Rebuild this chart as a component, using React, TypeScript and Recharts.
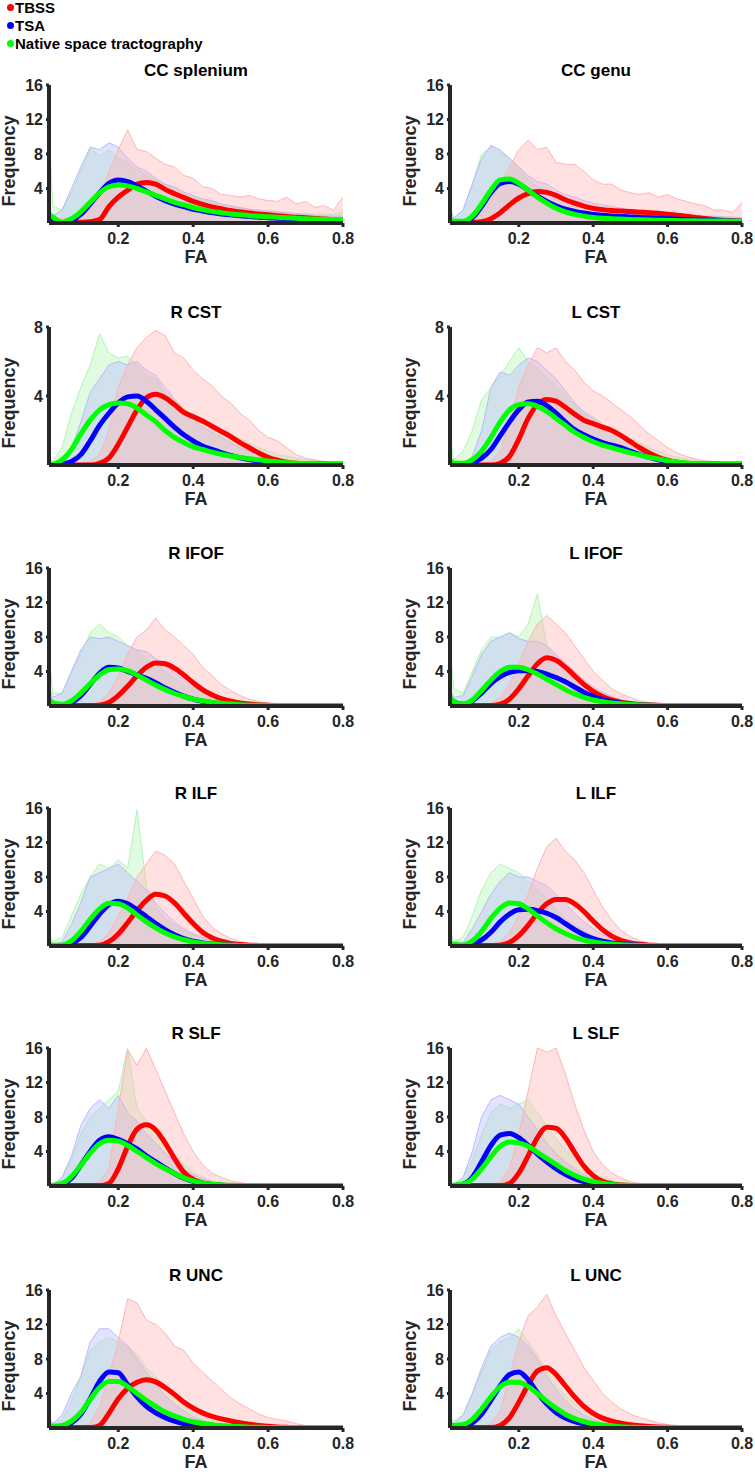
import React from "react";
import { ComposedChart, Line, Area, XAxis, YAxis } from "recharts";

// FA bin centres shared by every histogram curve
const FA_GRID = [0.015, 0.025, 0.05, 0.075, 0.1, 0.125, 0.15, 0.175, 0.2, 0.225, 0.25, 0.275, 0.3, 0.325, 0.35, 0.375, 0.4, 0.425, 0.45, 0.475, 0.5, 0.525, 0.55, 0.575, 0.6, 0.625, 0.65, 0.675, 0.7, 0.725, 0.75, 0.775, 0.8];
const X_TICKS = [0.2, 0.4, 0.6, 0.8];
const Y_TICKS_16 = [4, 8, 12, 16];
const Y_TICKS_8 = [4, 8];

const LEGEND_LABELS = ["TBSS", "TSA", "Native space tractography"];
const TITLES = ["CC splenium", "CC genu", "R CST", "L CST", "R IFOF", "L IFOF", "R ILF", "L ILF", "R SLF", "L SLF", "R UNC", "L UNC"];
const Y_MAX = [16, 16, 8, 8, 16, 16, 16, 16, 16, 16, 16, 16];

// ---- CC splenium
const CCS_TBSS = [0.05,0.05, 0.05,0.05,0.08, 0.15,0.4,1.9,3.0, 3.8,4.5,4.7,4.5, 3.9,3.4,2.95,2.5, 2.15,1.85,1.65,1.45, 1.3,1.15,1.05,0.95, 0.85,0.75,0.68,0.6, 0.52,0.45,0.38,0.3];
const CCS_TSA = [0.3,0.15, 0.02,0.3,1.0, 2.2,3.5,4.6,5.0, 4.8,4.3,3.7,3.1, 2.6,2.2,1.9,1.6, 1.4,1.2,1.05,0.95, 0.85,0.75,0.68,0.62, 0.56,0.5,0.46,0.42, 0.38,0.35,0.32,0.3];
const CCS_NAT = [1.0,0.7, 0.1,0.5,1.3, 2.4,3.5,4.2,4.4, 4.3,4.0,3.6,3.2, 2.8,2.4,2.1,1.8, 1.55,1.35,1.2,1.05, 0.95,0.85,0.78,0.72, 0.66,0.6,0.55,0.5, 0.46,0.42,0.4,0.38];
const CCS_TBSS_MAX = [0.5,0.5, 0.5,0.6,0.8, 1.5,3,6,8.5, 10.8,8.5,8.3,7.5, 6.8,6.5,5.5,5.2, 4.2,4,3.3,3.2, 3.0,3.2,2.8,2.6, 2.5,3.0,2.2,2.5, 1.8,2.0,1.5,3.0];
const CCS_TSA_MAX = [1.5,0.8, 1.5,4,6.5, 8.8,8.5,9.3,8.8, 7.5,6.5,6,5.2, 4.5,4.2,3.6,3.2, 2.8,2.6,2.2,2, 1.8,1.6,1.5,1.4, 1.3,1.2,1.1,1.0, 0.9,0.8,0.8,0.8];
const CCS_NAT_MAX = [11,2, 1.5,3.5,6, 8.6,7.8,8.5,7.5, 7,6.2,5.5,5, 4.5,4,3.4,3, 2.7,2.4,2.1,1.9, 1.7,1.6,1.5,1.4, 1.3,1.2,1.1,1.1, 1.0,1.0,1.0,1.2];

// ---- CC genu
const CCG_TBSS = [0.05,0.05, 0.05,0.05,0.15, 0.5,1.2,2.1,2.9, 3.4,3.65,3.55,3.2, 2.7,2.3,1.95,1.7, 1.55,1.45,1.38,1.32, 1.26,1.2,1.12,1.02, 0.9,0.78,0.65,0.52, 0.42,0.33,0.25,0.2];
const CCG_TSA = [0.15,0.1, 0.1,0.6,1.9, 3.5,4.6,4.8,4.5, 3.8,3.1,2.5,2.0, 1.6,1.35,1.15,1.0, 0.9,0.82,0.76,0.7, 0.65,0.6,0.55,0.5, 0.45,0.4,0.36,0.32, 0.28,0.25,0.22,0.2];
const CCG_NAT = [0.3,0.2, 0.2,0.8,2.2, 3.8,5.0,5.1,4.6, 3.8,3.0,2.3,1.7, 1.3,1.0,0.8,0.65, 0.55,0.5,0.45,0.4, 0.37,0.34,0.32,0.3, 0.28,0.26,0.25,0.24, 0.23,0.22,0.21,0.2];
const CCG_TBSS_MAX = [0.3,0.3, 0.3,0.5,1, 2.5,4.5,6.5,8.5, 9.6,8.5,8.8,7, 6.8,6.8,6,5, 4.5,4.5,3.8,3.5, 3.3,3.5,3,3.3, 2.8,2.5,2.2,2.0, 1.5,1.5,1.2,2.4];
const CCG_TSA_MAX = [1.5,0.5, 1.5,4.5,7.5, 9,8.5,7.5,6.5, 5.5,4.8,4.5,3.8, 3.3,3,2.6,2.3, 2.1,1.9,1.7,1.6, 1.5,1.4,1.3,1.2, 1.1,1.0,0.9,0.8, 0.8,0.7,0.7,0.6];
const CCG_NAT_MAX = [2,0.6, 1.5,4.5,8, 8.8,8.2,7.5,6.5, 5,4.2,3.6,3, 2.6,2.2,1.9,1.6, 1.4,1.3,1.2,1.1, 1.0,0.9,0.9,0.8, 0.8,0.7,0.7,0.6, 0.6,0.5,0.5,0.5];

// ---- R CST
const RCST_TBSS = [0,0, 0,0,0, 0,0.1,0.4,1.2, 2.2,3.2,3.9,4.1, 3.9,3.5,3.05,2.8, 2.55,2.25,1.95,1.65, 1.3,1.0,0.7,0.45, 0.28,0.16,0.1,0.06, 0.05,0.05,0.05,0.05];
const RCST_TSA = [0,0, 0.05,0.2,0.6, 1.4,2.3,3.0,3.6, 3.95,4.0,3.7,3.2, 2.7,2.2,1.75,1.4, 1.1,0.9,0.72,0.56, 0.42,0.32,0.24,0.16, 0.1,0.07,0.05,0.05, 0.05,0.05,0.05,0.05];
const RCST_NAT = [0.05,0.05, 0.3,0.9,1.8, 2.6,3.2,3.5,3.6, 3.55,3.3,2.9,2.5, 2.0,1.6,1.3,1.05, 0.9,0.75,0.62,0.52, 0.44,0.36,0.3,0.24, 0.18,0.13,0.1,0.08, 0.06,0.05,0.05,0.05];
const RCST_TBSS_MAX = [0,0, 0,0,0.1, 0.2,0.6,2,4.5, 5.8,6.8,7.4,7.8, 7.5,6.5,6.2,5.5, 5,4.6,4,3.6, 3,2.6,2,1.6, 1.4,1,0.6,0.4, 0.3,0.2,0.1,0.1];
const RCST_TSA_MAX = [0,0, 0.3,1,2.5, 4.2,5,5.8,6, 5.8,6,5.5,5.2, 4.5,3.8,3.2,2.6, 2.2,1.9,1.6,1.3, 1,0.8,0.6,0.4, 0.3,0.2,0.15,0.1, 0.1,0.05,0.05,0.05];
const RCST_NAT_MAX = [0.5,0.2, 1,3,4.5, 5.8,7.6,6.5,6.2, 6.3,5.8,5.2,5, 4.2,3.8,3.3,2.8, 2.4,2.2,2,1.8, 1.5,1.3,1,0.8, 0.6,0.5,0.4,0.3, 0.25,0.2,0.15,0.1];

// ---- L CST
const LCST_TBSS = [0,0, 0,0,0, 0,0.1,0.5,1.5, 2.7,3.5,3.8,3.7, 3.35,2.95,2.6,2.4, 2.2,2.0,1.7,1.35, 1.0,0.7,0.45,0.28, 0.16,0.1,0.07,0.05, 0.05,0.05,0.05,0.05];
const LCST_TSA = [0,0, 0.05,0.15,0.4, 0.9,1.7,2.5,3.2, 3.65,3.7,3.45,3.0, 2.5,2.05,1.75,1.5, 1.3,1.15,1.0,0.8, 0.6,0.45,0.3,0.2, 0.12,0.08,0.05,0.05, 0.05,0.05,0.05,0.05];
const LCST_NAT = [0.3,0.1, 0.1,0.3,0.8, 1.6,2.5,3.2,3.5, 3.55,3.4,3.1,2.7, 2.3,1.9,1.6,1.35, 1.15,1.0,0.85,0.7, 0.58,0.45,0.35,0.25, 0.18,0.12,0.08,0.06, 0.05,0.05,0.05,0.05];
const LCST_TBSS_MAX = [0,0, 0,0,0.1, 0.2,0.8,2.5,4.5, 5.8,6.8,6.5,6.8, 6,5.5,4.8,4.3, 4,3.6,3.2,2.8, 2.3,1.8,1.4,1, 0.7,0.5,0.35,0.25, 0.2,0.15,0.1,0.1];
const LCST_TSA_MAX = [0,0, 0.1,0.5,2, 4.5,5.4,5.2,5.8, 6.2,6,5.5,5, 4.3,3.6,3.1,2.7, 2.3,2,1.7,1.4, 1.1,0.8,0.6,0.4, 0.3,0.2,0.15,0.1, 0.1,0.05,0.05,0.05];
const LCST_NAT_MAX = [1.8,0.3, 0.8,2,3.8, 4.5,5.2,6,6.8, 6,5.6,5,4.6, 4,3.5,3,2.8, 2.4,2.1,1.8,1.5, 1.3,1,0.8,0.6, 0.45,0.35,0.25,0.2, 0.15,0.1,0.1,0.1];

// ---- R IFOF
const RIFOF_TBSS = [0.05,0.05, 0.05,0.05,0.05, 0.05,0.1,0.4,1.2, 2.3,3.5,4.5,5.0, 4.9,4.4,3.6,2.7, 1.9,1.3,0.85,0.55, 0.35,0.22,0.14,0.1, 0.07,0.05,0.05,0.05, 0.05,0.05,0.05,0.05];
const RIFOF_TSA = [0.5,0.3, 0.1,0.4,1.2, 2.5,3.8,4.5,4.4, 4.0,3.6,3.2,2.7, 2.1,1.6,1.15,0.8, 0.55,0.38,0.25,0.16, 0.1,0.07,0.05,0.05, 0.05,0.05,0.05,0.05, 0.05,0.05,0.05,0.05];
const RIFOF_NAT = [0.8,0.4, 0.2,0.6,1.5, 2.6,3.6,4.2,4.3, 4.1,3.6,3.0,2.4, 1.9,1.45,1.1,0.8, 0.6,0.45,0.32,0.22, 0.15,0.1,0.08,0.06, 0.05,0.05,0.05,0.05, 0.05,0.05,0.05,0.05];
const RIFOF_TBSS_MAX = [0.05,0.05, 0.05,0.05,0.1, 0.2,0.5,1.5,3.5, 6,8,8.8,10.2, 8.8,8,7,6, 4.5,3.5,2.5,1.8, 1.2,0.8,0.5,0.3, 0.2,0.15,0.1,0.1, 0.05,0.05,0.05,0.05];
const RIFOF_TSA_MAX = [2,1, 1.5,4,6.5, 8,7.8,8,7.5, 7,6.5,6.3,5.5, 4.8,3.8,3,2.2, 1.6,1.2,0.8,0.5, 0.3,0.2,0.15,0.1, 0.1,0.05,0.05,0.05, 0.05,0.05,0.05,0.05];
const RIFOF_NAT_MAX = [6,1.5, 1.5,4,6, 8.5,9.5,8.5,8, 7,6.5,5.5,4.8, 4,3.2,2.5,2, 1.5,1.2,0.9,0.7, 0.5,0.35,0.25,0.2, 0.15,0.1,0.1,0.05, 0.05,0.05,0.05,0.05];

// ---- L IFOF
const LIFOF_TBSS = [0.05,0.05, 0.05,0.05,0.05, 0.05,0.2,0.8,2.0, 3.5,4.9,5.6,5.3, 4.5,3.5,2.5,1.7, 1.1,0.7,0.45,0.28, 0.18,0.12,0.08,0.06, 0.05,0.05,0.05,0.05, 0.05,0.05,0.05,0.05];
const LIFOF_TSA = [0.8,0.5, 0.2,0.6,1.5, 2.6,3.4,3.9,4.1, 4.1,4.0,3.7,3.3, 2.8,2.2,1.6,1.1, 0.75,0.5,0.32,0.2, 0.12,0.08,0.06,0.05, 0.05,0.05,0.05,0.05, 0.05,0.05,0.05,0.05];
const LIFOF_NAT = [1.0,0.5, 0.2,0.7,1.8, 3.0,4.0,4.5,4.5, 4.2,3.7,3.1,2.5, 1.9,1.4,1.0,0.7, 0.5,0.35,0.25,0.18, 0.12,0.08,0.06,0.05, 0.05,0.05,0.05,0.05, 0.05,0.05,0.05,0.05];
const LIFOF_TBSS_MAX = [0.05,0.05, 0.05,0.05,0.1, 0.3,1,2.5,5, 7.5,9.5,10.5,9.5, 8.5,7,5.5,4, 3,2,1.4,1, 0.6,0.4,0.25,0.15, 0.1,0.1,0.05,0.05, 0.05,0.05,0.05,0.05];
const LIFOF_TSA_MAX = [2,1, 1.2,3.5,6, 7.5,8,8.5,7.8, 7.5,7.5,7,6, 5,4,3,2.2, 1.6,1.1,0.7,0.5, 0.3,0.2,0.15,0.1, 0.1,0.05,0.05,0.05, 0.05,0.05,0.05,0.05];
const LIFOF_NAT_MAX = [7,2, 1.5,4,6.5, 8,8,8.5,8, 9.5,13,7,5.5, 4.5,3.5,2.6,2, 1.4,1,0.7,0.5, 0.35,0.25,0.2,0.15, 0.1,0.1,0.05,0.05, 0.05,0.05,0.05,0.05];

// ---- R ILF
const RILF_TBSS = [0.05,0.05, 0.05,0.05,0.05, 0.05,0.1,0.5,1.4, 2.7,4.1,5.3,6.0, 5.8,5.0,3.8,2.6, 1.6,0.95,0.55,0.3, 0.17,0.1,0.07,0.05, 0.05,0.05,0.05,0.05, 0.05,0.05,0.05,0.05];
const RILF_TSA = [0.1,0.05, 0.05,0.3,1.0, 2.3,3.7,4.8,5.2, 4.9,4.2,3.4,2.6, 1.9,1.3,0.85,0.55, 0.35,0.22,0.14,0.1, 0.07,0.05,0.05,0.05, 0.05,0.05,0.05,0.05, 0.05,0.05,0.05,0.05];
const RILF_NAT = [0.3,0.1, 0.1,0.6,1.7, 3.1,4.3,4.95,4.9, 4.4,3.6,2.8,2.1, 1.5,1.05,0.72,0.48, 0.32,0.22,0.15,0.1, 0.07,0.05,0.05,0.05, 0.05,0.05,0.05,0.05, 0.05,0.05,0.05,0.05];
const RILF_TBSS_MAX = [0.05,0.05, 0.05,0.05,0.1, 0.2,0.5,1.5,3.5, 5.5,8,9.5,11, 10.5,9.5,7.5,5.5, 3.5,2.2,1.4,0.9, 0.5,0.3,0.2,0.1, 0.1,0.05,0.05,0.05, 0.05,0.05,0.05,0.05];
const RILF_TSA_MAX = [0.3,0.1, 0.5,2.5,5, 8,8.5,9,9.5, 8.5,7.5,6.5,5, 3.8,2.8,2,1.4, 1,0.6,0.4,0.25, 0.15,0.1,0.05,0.05, 0.05,0.05,0.05,0.05, 0.05,0.05,0.05,0.05];
const RILF_NAT_MAX = [1.5,0.5, 1,3.5,6, 8,9.5,9,10, 9,15.8,7,4.5, 3.2,2.4,1.8,1.3, 0.9,0.6,0.4,0.3, 0.2,0.15,0.1,0.1, 0.05,0.05,0.05,0.05, 0.05,0.05,0.05,0.05];

// ---- L ILF
const LILF_TBSS = [0.05,0.05, 0.05,0.05,0.05, 0.05,0.1,0.4,1.2, 2.4,3.8,4.9,5.4, 5.4,4.9,4.0,2.9, 1.9,1.15,0.65,0.35, 0.2,0.1,0.07,0.05, 0.05,0.05,0.05,0.05, 0.05,0.05,0.05,0.05];
const LILF_TSA = [0.2,0.1, 0.05,0.2,0.7, 1.6,2.8,3.7,4.2, 4.25,4.1,3.8,3.3, 2.6,1.9,1.3,0.85, 0.55,0.35,0.22,0.14, 0.09,0.06,0.05,0.05, 0.05,0.05,0.05,0.05, 0.05,0.05,0.05,0.05];
const LILF_NAT = [0.4,0.2, 0.1,0.6,1.7, 3.2,4.4,5.0,4.9, 4.3,3.5,2.7,2.0, 1.45,1.0,0.7,0.48, 0.32,0.22,0.15,0.1, 0.07,0.05,0.05,0.05, 0.05,0.05,0.05,0.05, 0.05,0.05,0.05,0.05];
const LILF_TBSS_MAX = [0.05,0.05, 0.05,0.05,0.1, 0.2,0.5,1.5,3.5, 6,9,11.5,12.5, 11,10,8.5,6.5, 4.5,3,1.8,1.1, 0.6,0.35,0.2,0.1, 0.1,0.05,0.05,0.05, 0.05,0.05,0.05,0.05];
const LILF_TSA_MAX = [0.3,0.1, 0.4,2,4, 6,7.5,8.5,8, 8,7.5,7,6, 5,3.8,2.8,2, 1.3,0.8,0.5,0.3, 0.2,0.1,0.05,0.05, 0.05,0.05,0.05,0.05, 0.05,0.05,0.05,0.05];
const LILF_NAT_MAX = [2,0.5, 1,3.5,6.5, 8.5,9.5,9,8.5, 7.5,6.5,5.5,4.2, 3.2,2.4,1.8,1.2, 0.8,0.5,0.35,0.25, 0.15,0.1,0.1,0.05, 0.05,0.05,0.05,0.05, 0.05,0.05,0.05,0.05];

// ---- R SLF
const RSLF_TBSS = [0.05,0.05, 0.05,0.05,0.05, 0.05,0.05,0.3,2.0, 4.6,6.6,7.1,6.5, 5.0,3.2,1.6,0.75, 0.35,0.15,0.08,0.05, 0.05,0.05,0.05,0.05, 0.05,0.05,0.05,0.05, 0.05,0.05,0.05,0.05];
const RSLF_TSA = [0.05,0.05, 0.2,0.9,2.4, 4.0,5.3,5.7,5.4, 4.9,4.3,3.5,2.8, 2.1,1.45,0.9,0.55, 0.32,0.18,0.1,0.06, 0.05,0.05,0.05,0.05, 0.05,0.05,0.05,0.05, 0.05,0.05,0.05,0.05];
const RSLF_NAT = [0.1,0.1, 0.3,1.1,2.4, 3.8,4.9,5.3,5.2, 4.7,4.0,3.3,2.6, 2.0,1.45,0.95,0.6, 0.35,0.2,0.12,0.08, 0.06,0.05,0.05,0.05, 0.05,0.05,0.05,0.05, 0.05,0.05,0.05,0.05];
const RSLF_TBSS_MAX = [0.05,0.05, 0.05,0.05,0.05, 0.1,0.5,2,9, 15.8,14,16,13.5, 11,8.5,6,4, 2.5,1.5,1,0.6, 0.4,0.25,0.15,0.1, 0.05,0.05,0.05,0.05, 0.05,0.05,0.05,0.05];
const RSLF_TSA_MAX = [0.1,0.1, 1,3.5,7, 9,10,9,10.5, 8.5,7.5,6,5, 3.8,2.8,2,1.3, 0.8,0.5,0.3,0.2, 0.1,0.05,0.05,0.05, 0.05,0.05,0.05,0.05, 0.05,0.05,0.05,0.05];
const RSLF_NAT_MAX = [0.3,0.2, 1,3,6, 8,9,10,11, 16,9,7.5,6, 4.5,3.5,2.5,1.6, 1,0.6,0.4,0.3, 0.2,0.1,0.1,0.05, 0.05,0.05,0.05,0.05, 0.05,0.05,0.05,0.05];

// ---- L SLF
const LSLF_TBSS = [0.05,0.05, 0.05,0.05,0.05, 0.05,0.05,0.3,1.5, 3.5,5.6,6.8,6.7, 5.6,3.9,2.3,1.2, 0.55,0.25,0.12,0.06, 0.05,0.05,0.05,0.05, 0.05,0.05,0.05,0.05, 0.05,0.05,0.05,0.05];
const LSLF_TSA = [0.05,0.05, 0.2,1.0,2.8, 4.7,5.9,6.1,5.6, 4.7,3.7,2.8,2.0, 1.35,0.85,0.5,0.3, 0.18,0.1,0.06,0.05, 0.05,0.05,0.05,0.05, 0.05,0.05,0.05,0.05, 0.05,0.05,0.05,0.05];
const LSLF_NAT = [0.1,0.1, 0.2,0.8,2.0, 3.4,4.6,5.1,5.0, 4.6,3.9,3.2,2.5, 1.8,1.25,0.8,0.5, 0.3,0.18,0.1,0.07, 0.05,0.05,0.05,0.05, 0.05,0.05,0.05,0.05, 0.05,0.05,0.05,0.05];
const LSLF_TBSS_MAX = [0.05,0.05, 0.05,0.05,0.05, 0.1,0.5,2,6, 11,16,15.5,16, 13,9.5,6.5,4, 2.5,1.5,0.9,0.5, 0.3,0.2,0.1,0.05, 0.05,0.05,0.05,0.05, 0.05,0.05,0.05,0.05];
const LSLF_TSA_MAX = [0.1,0.1, 1,4,8, 10,10.5,10,9.5, 8,6.5,5,3.8, 2.8,2,1.3,0.8, 0.5,0.3,0.2,0.1, 0.05,0.05,0.05,0.05, 0.05,0.05,0.05,0.05, 0.05,0.05,0.05,0.05];
const LSLF_NAT_MAX = [0.3,0.2, 1,3,6, 8.5,9.5,9,9.5, 10,8.5,7,5.5, 4.2,3.2,2.2,1.5, 1,0.6,0.4,0.25, 0.15,0.1,0.05,0.05, 0.05,0.05,0.05,0.05, 0.05,0.05,0.05,0.05];

// ---- R UNC
const RUNC_TBSS = [0.05,0.05, 0.05,0.05,0.05, 0.05,0.3,1.7,3.4, 4.6,5.3,5.6,5.35, 4.7,3.9,3.0,2.3, 1.75,1.35,1.05,0.82, 0.62,0.45,0.3,0.2, 0.12,0.08,0.05,0.05, 0.05,0.05,0.05,0.05];
const RUNC_TSA = [0.1,0.1, 0.2,0.6,1.6, 3.4,5.4,6.5,6.4, 5.0,3.6,2.5,1.75, 1.2,0.8,0.5,0.32, 0.2,0.12,0.08,0.06, 0.05,0.05,0.05,0.05, 0.05,0.05,0.05,0.05, 0.05,0.05,0.05,0.05];
const RUNC_NAT = [0.3,0.2, 0.3,0.8,1.8, 3.3,4.7,5.4,5.4, 4.8,4.0,3.2,2.5, 1.85,1.4,1.0,0.72, 0.52,0.38,0.28,0.2, 0.15,0.1,0.08,0.06, 0.05,0.05,0.05,0.05, 0.05,0.05,0.05,0.05];
const RUNC_TBSS_MAX = [0.05,0.05, 0.05,0.05,0.1, 0.5,2.5,6,10, 15,14.5,12.5,12, 11,9.5,9,7.5, 6.5,5.5,4.5,3.5, 2.8,2.2,1.6,1.2, 1,0.8,0.5,0.3, 0.2,0.1,0.05,0.05];
const RUNC_TSA_MAX = [1,0.5, 1.5,4,6, 10,11.5,11.5,10.5, 9.5,8,6.5,5, 3.8,2.8,2,1.3, 0.9,0.6,0.4,0.25, 0.15,0.1,0.05,0.05, 0.05,0.05,0.05,0.05, 0.05,0.05,0.05,0.05];
const RUNC_NAT_MAX = [1.5,0.5, 1,3,6, 9,10,10.5,10, 9.5,8.5,7,6, 4.5,3.5,2.5,1.8, 1.3,0.9,0.6,0.4, 0.3,0.2,0.15,0.1, 0.05,0.05,0.05,0.05, 0.05,0.05,0.05,0.05];

// ---- L UNC
const LUNC_TBSS = [0.05,0.05, 0.05,0.05,0.05, 0.05,0.3,1.2,3.0, 5.0,6.6,7.0,6.2, 4.9,3.6,2.5,1.7, 1.15,0.8,0.55,0.38, 0.26,0.18,0.12,0.08, 0.05,0.05,0.05,0.05, 0.05,0.05,0.05,0.05];
const LUNC_TSA = [0.1,0.1, 0.2,0.6,1.6, 3.2,4.9,6.2,6.5, 5.6,4.1,2.8,1.8, 1.15,0.75,0.48,0.3, 0.2,0.12,0.08,0.06, 0.05,0.05,0.05,0.05, 0.05,0.05,0.05,0.05, 0.05,0.05,0.05,0.05];
const LUNC_NAT = [0.4,0.3, 0.4,1.0,2.2, 3.6,4.8,5.3,5.3, 4.8,4.0,3.1,2.3, 1.6,1.1,0.75,0.5, 0.34,0.22,0.15,0.1, 0.07,0.05,0.05,0.05, 0.05,0.05,0.05,0.05, 0.05,0.05,0.05,0.05];
const LUNC_TBSS_MAX = [0.05,0.05, 0.05,0.05,0.1, 0.5,2,6,10, 13,14,15.5,13, 11,9,7,5.5, 4,3,2.2,1.6, 1.2,0.9,0.6,0.4, 0.3,0.2,0.1,0.05, 0.05,0.05,0.05,0.05];
const LUNC_TSA_MAX = [1,0.5, 1.5,4,7, 9.5,10.5,11,10.5, 9.5,8,6,4.5, 3.2,2.2,1.5,1, 0.6,0.4,0.25,0.15, 0.1,0.05,0.05,0.05, 0.05,0.05,0.05,0.05, 0.05,0.05,0.05,0.05];
const LUNC_NAT_MAX = [1.5,0.8, 1.5,4,6.5, 9,10,10.5,11.5, 10,8.5,6.5,5, 3.8,2.8,2,1.4, 1,0.7,0.45,0.3, 0.2,0.15,0.1,0.05, 0.05,0.05,0.05,0.05, 0.05,0.05,0.05,0.05];

const SERIES = [
  [CCS_TBSS, CCS_TSA, CCS_NAT, CCS_TBSS_MAX, CCS_TSA_MAX, CCS_NAT_MAX],
  [CCG_TBSS, CCG_TSA, CCG_NAT, CCG_TBSS_MAX, CCG_TSA_MAX, CCG_NAT_MAX],
  [RCST_TBSS, RCST_TSA, RCST_NAT, RCST_TBSS_MAX, RCST_TSA_MAX, RCST_NAT_MAX],
  [LCST_TBSS, LCST_TSA, LCST_NAT, LCST_TBSS_MAX, LCST_TSA_MAX, LCST_NAT_MAX],
  [RIFOF_TBSS, RIFOF_TSA, RIFOF_NAT, RIFOF_TBSS_MAX, RIFOF_TSA_MAX, RIFOF_NAT_MAX],
  [LIFOF_TBSS, LIFOF_TSA, LIFOF_NAT, LIFOF_TBSS_MAX, LIFOF_TSA_MAX, LIFOF_NAT_MAX],
  [RILF_TBSS, RILF_TSA, RILF_NAT, RILF_TBSS_MAX, RILF_TSA_MAX, RILF_NAT_MAX],
  [LILF_TBSS, LILF_TSA, LILF_NAT, LILF_TBSS_MAX, LILF_TSA_MAX, LILF_NAT_MAX],
  [RSLF_TBSS, RSLF_TSA, RSLF_NAT, RSLF_TBSS_MAX, RSLF_TSA_MAX, RSLF_NAT_MAX],
  [LSLF_TBSS, LSLF_TSA, LSLF_NAT, LSLF_TBSS_MAX, LSLF_TSA_MAX, LSLF_NAT_MAX],
  [RUNC_TBSS, RUNC_TSA, RUNC_NAT, RUNC_TBSS_MAX, RUNC_TSA_MAX, RUNC_NAT_MAX],
  [LUNC_TBSS, LUNC_TSA, LUNC_NAT, LUNC_TBSS_MAX, LUNC_TSA_MAX, LUNC_NAT_MAX],
];

// ---- layout / style
const FONT = "'Liberation Sans', Arial, Helvetica, sans-serif";
const AXIS = "#262626";
const RED = "#ff0000", BLUE = "#0000ff", GREEN = "#00ff00";
const PALE_RED = "#ffb4b4", PALE_BLUE = "#b9b9ff", PALE_GREEN = "#b4f5b4";
const ROW_TOPS = [85, 327, 568, 808, 1048, 1290];
const COL_AXIS_X = [49, 450];
const COL_PLOT_W = [294, 292];
const COL_RIGHT_PAD = [16, 13];
const PLOT_H = 138;
const Y_AXIS_W = 49;
const TOP_PAD = 10;
const X_AXIS_H = 30;

function Panel({ idx }: { idx: number }) {
  const row = Math.floor(idx / 2);
  const col = idx % 2;
  const [r, b, g, rMax, bMax, gMax] = SERIES[idx];
  const data = FA_GRID.map((x, i) => ({ x, r: r[i], b: b[i], g: g[i], rMax: rMax[i], bMax: bMax[i], gMax: gMax[i] }));
  const axisX = COL_AXIS_X[col];
  const plotW = COL_PLOT_W[col];
  const rightPad = COL_RIGHT_PAD[col];
  const top = ROW_TOPS[row];
  const yMax = Y_MAX[idx];
  const tickStyle = { fontSize: 16, fontWeight: 700, fill: AXIS, fontFamily: FONT };
  return (
    <>
      <div style={{ position: "absolute", left: axisX - Y_AXIS_W, top: top - TOP_PAD }}>
        <ComposedChart
          width={Y_AXIS_W + plotW + rightPad}
          height={TOP_PAD + PLOT_H + X_AXIS_H}
          data={data}
          margin={{ top: TOP_PAD, right: rightPad, left: 0, bottom: 0 }}
        >
          <XAxis
            type="number"
            dataKey="x"
            domain={[0.015, 0.8]}
            allowDataOverflow
            ticks={X_TICKS}
            tickFormatter={(v: number) => String(v)}
            height={X_AXIS_H}
            axisLine={{ stroke: AXIS, strokeWidth: 4 }}
            tickLine={{ stroke: AXIS, strokeWidth: 3 }}
            tickSize={4}
            tickMargin={6}
            tick={tickStyle}
            interval={0}
          />
          <YAxis
            type="number"
            domain={[0, yMax]}
            allowDataOverflow
            ticks={yMax === 8 ? Y_TICKS_8 : Y_TICKS_16}
            width={Y_AXIS_W}
            axisLine={{ stroke: AXIS, strokeWidth: 4 }}
            tickLine={{ stroke: AXIS, strokeWidth: 3 }}
            tickSize={3}
            tickMargin={3}
            tick={tickStyle}
            interval={0}
          />
          <Area type="linear" dataKey="gMax" stroke={PALE_GREEN} strokeWidth={1} fill={PALE_GREEN} fillOpacity={0.4} dot={false} activeDot={false} isAnimationActive={false} />
          <Area type="linear" dataKey="bMax" stroke={PALE_BLUE} strokeWidth={1} fill={PALE_BLUE} fillOpacity={0.4} dot={false} activeDot={false} isAnimationActive={false} />
          <Area type="linear" dataKey="rMax" stroke={PALE_RED} strokeWidth={1} fill={PALE_RED} fillOpacity={0.4} dot={false} activeDot={false} isAnimationActive={false} />
          <Line type="monotone" dataKey="r" stroke={RED} strokeWidth={5} dot={false} activeDot={false} isAnimationActive={false} />
          <Line type="monotone" dataKey="b" stroke={BLUE} strokeWidth={5} dot={false} activeDot={false} isAnimationActive={false} />
          <Line type="monotone" dataKey="g" stroke={GREEN} strokeWidth={5} dot={false} activeDot={false} isAnimationActive={false} />
        </ComposedChart>
      </div>
      <div style={{ position: "absolute", left: axisX, width: plotW, top: top - 24, textAlign: "center", fontFamily: FONT, fontWeight: 700, fontSize: 17, color: "#000", lineHeight: "20px" }}>
        {TITLES[idx]}
      </div>
      <div style={{ position: "absolute", left: axisX, width: plotW, top: top + PLOT_H + 24, textAlign: "center", fontFamily: FONT, fontWeight: 700, fontSize: 18, color: AXIS, lineHeight: "20px" }}>
        FA
      </div>
      <div style={{ position: "absolute", left: axisX - 40 - 60, top: top + PLOT_H / 2 + 7 - 10, width: 120, height: 20, textAlign: "center", fontFamily: FONT, fontWeight: 700, fontSize: 18, color: AXIS, lineHeight: "20px", transform: "rotate(-90deg)", transformOrigin: "60px 10px" }}>
        Frequency
      </div>
    </>
  );
}

const LEGEND_COLORS = [RED, BLUE, GREEN];
const LEGEND_Y = [7, 25, 43];

export default function App() {
  return (
    <div style={{ position: "absolute", left: 0, top: 0, width: 755, height: 1472, background: "#fff", overflow: "hidden" }}>
      {LEGEND_LABELS.map((lab, i) => (
        <div key={lab} style={{ position: "absolute", left: 7, top: LEGEND_Y[i] - 9, height: 18, display: "flex", alignItems: "center", fontFamily: FONT, fontWeight: 700, fontSize: 15, color: "#000" }}>
          <span style={{ display: "inline-block", width: 7, height: 7, borderRadius: 4, background: LEGEND_COLORS[i], marginRight: 1 }} />
          <span>{lab}</span>
        </div>
      ))}
      {TITLES.map((_, i) => (
        <Panel key={i} idx={i} />
      ))}
    </div>
  );
}
